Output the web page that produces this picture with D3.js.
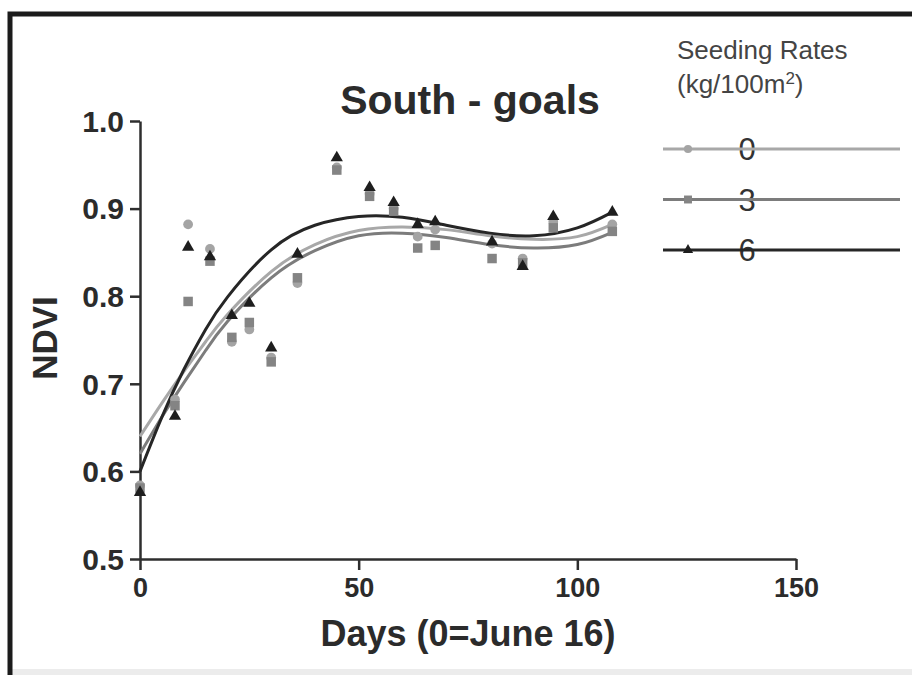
<!DOCTYPE html>
<html>
<head>
<meta charset="utf-8">
<script src="https://cdn.jsdelivr.net/npm/d3@7"></script>
<style>
  body { margin: 0; background: #fff; }
  text { font-family: "Liberation Sans", Arial, sans-serif; fill: #2b2b2b; }
  .axis path, .axis line { stroke: #2e2e2e; stroke-width: 2.5; }
  .axis text { font-weight: bold; }
</style>
</head>
<body>
<div id="chart"></div>
<script>
// Sampling days (0 = June 16) and NDVI readings per seeding rate
const days = [0, 8, 11, 16, 21, 25, 30, 36, 45, 52.5, 58, 63.5, 67.5, 80.5, 87.5, 94.5, 108];
const ndviRate0 = [0.584, 0.682, 0.882, 0.854, 0.748, 0.762, 0.730, 0.815, 0.947, 0.917, 0.900, 0.868, 0.876, 0.860, 0.843, 0.885, 0.882];
const ndviRate3 = [0.581, 0.675, 0.794, 0.840, 0.753, 0.770, 0.725, 0.821, 0.944, 0.914, 0.897, 0.855, 0.858, 0.843, 0.838, 0.878, 0.874];
const ndviRate6 = [0.576, 0.663, 0.856, 0.845, 0.778, 0.792, 0.741, 0.848, 0.958, 0.924, 0.907, 0.882, 0.885, 0.862, 0.834, 0.891, 0.896];

// Fitted curves
const fitDays = [0, 5, 10, 15, 20, 30, 40, 50, 60, 70, 80, 90, 100, 108];
const fitRate0 = [0.640, 0.678, 0.714, 0.748, 0.779, 0.828, 0.859, 0.875, 0.879, 0.876, 0.869, 0.865, 0.868, 0.882];
const fitRate3 = [0.620, 0.662, 0.701, 0.738, 0.771, 0.821, 0.852, 0.869, 0.872, 0.867, 0.859, 0.855, 0.859, 0.873];
const fitRate6 = [0.600, 0.662, 0.716, 0.762, 0.799, 0.853, 0.881, 0.891, 0.890, 0.881, 0.872, 0.869, 0.878, 0.896];

const rateLabels = ["0", "3", "6"];
const xTicks = [0, 50, 100, 150];
const yTicks = [0.5, 0.6, 0.7, 0.8, 0.9, 1.0];

const width = 912;
const height = 675;

const series = [
  { label: rateLabels[0], points: ndviRate0, fit: fitRate0, symbol: d3.symbolCircle, size: 75, fill: "#a4a4a4", stroke: "#a8a8a8" },
  { label: rateLabels[1], points: ndviRate3, fit: fitRate3, symbol: d3.symbolSquare, size: 90, fill: "#848484", stroke: "#7c7c7c" },
  { label: rateLabels[2], points: ndviRate6, fit: fitRate6, symbol: d3.symbolTriangle, size: 65, fill: "#1e1e1e", stroke: "#262626" }
];

const svg = d3.select("#chart").append("svg")
  .attr("width", width)
  .attr("height", height);

// Scanned frame: heavy top and left border, faint strip at the bottom
svg.append("rect")
  .attr("x", 12).attr("y", 669)
  .attr("width", width).attr("height", 6)
  .attr("fill", "#ececec");
svg.append("path")
  .attr("d", "M10," + (height + 10) + " V14 H" + (width + 10))
  .attr("fill", "none")
  .attr("stroke", "#1b1b1b")
  .attr("stroke-width", 5);

const x = d3.scaleLinear().domain([0, 150]).range([140, 796]);
const y = d3.scaleLinear().domain([0.5, 1.0]).range([559, 121]);

// Axes
svg.append("g")
  .attr("class", "axis")
  .attr("transform", "translate(0," + y(0.5) + ")")
  .call(d3.axisBottom(x).tickValues(xTicks).tickFormat(d3.format("d"))
    .tickSize(11).tickPadding(8).tickSizeOuter(0))
  .call(g => g.selectAll("text").style("font-size", "27px"));

svg.append("g")
  .attr("class", "axis")
  .attr("transform", "translate(" + x(0) + ",0)")
  .call(d3.axisLeft(y).tickValues(yTicks).tickFormat(d3.format(".1f"))
    .tickSize(10).tickPadding(6).tickSizeOuter(0))
  .call(g => g.selectAll("text").style("font-size", "30px").attr("dy", "0.34em"));

// Fitted curves
const line = d3.line()
  .x((d, i) => x(fitDays[i]))
  .y(d => y(d))
  .curve(d3.curveNatural);

series.forEach(s => {
  svg.append("path")
    .datum(s.fit)
    .attr("d", line)
    .attr("fill", "none")
    .attr("stroke", s.stroke)
    .attr("stroke-width", 3);
});

// Observed points
series.forEach(s => {
  svg.append("g")
    .selectAll("path")
    .data(s.points)
    .join("path")
    .attr("transform", (d, i) => "translate(" + x(days[i]) + "," + y(d) + ")")
    .attr("d", d3.symbol().type(s.symbol).size(s.size))
    .attr("fill", s.fill);
});

// Titles
svg.append("text")
  .attr("x", 470).attr("y", 114)
  .attr("text-anchor", "middle")
  .style("font-size", "41px")
  .style("font-weight", "bold")
  .text("South - goals");

svg.append("text")
  .attr("x", 468).attr("y", 646)
  .attr("text-anchor", "middle")
  .style("font-size", "36px")
  .style("font-weight", "bold")
  .text("Days (0=June 16)");

svg.append("text")
  .attr("transform", "translate(57,338) rotate(-90)")
  .attr("text-anchor", "middle")
  .style("font-size", "35px")
  .style("font-weight", "bold")
  .text("NDVI");

// Legend
const legend = svg.append("g").attr("class", "legend");

legend.append("text")
  .attr("x", 677).attr("y", 59)
  .style("font-size", "26px")
  .style("fill", "#444")
  .text("Seeding Rates");

const unit = legend.append("text")
  .attr("x", 677).attr("y", 93)
  .style("font-size", "26px")
  .style("fill", "#444");
unit.append("tspan").text("(kg/100m");
unit.append("tspan").attr("dy", -9).style("font-size", "17px").text("2");
unit.append("tspan").attr("dy", 9).text(")");

const rowY = d3.scalePoint().domain(rateLabels).range([149, 250]);

series.forEach(s => {
  const ly = rowY(s.label);
  legend.append("text")
    .attr("x", 747).attr("y", ly + 11)
    .attr("text-anchor", "middle")
    .style("font-size", "31px")
    .style("fill", "#333")
    .text(s.label);
  legend.append("line")
    .attr("x1", 663).attr("x2", 900)
    .attr("y1", ly).attr("y2", ly)
    .attr("stroke", s.stroke)
    .attr("stroke-width", 3);
  legend.append("path")
    .attr("transform", "translate(688," + ly + ")")
    .attr("d", d3.symbol().type(s.symbol).size(s.size * 0.7))
    .attr("fill", s.fill);
});
</script>
</body>
</html>
